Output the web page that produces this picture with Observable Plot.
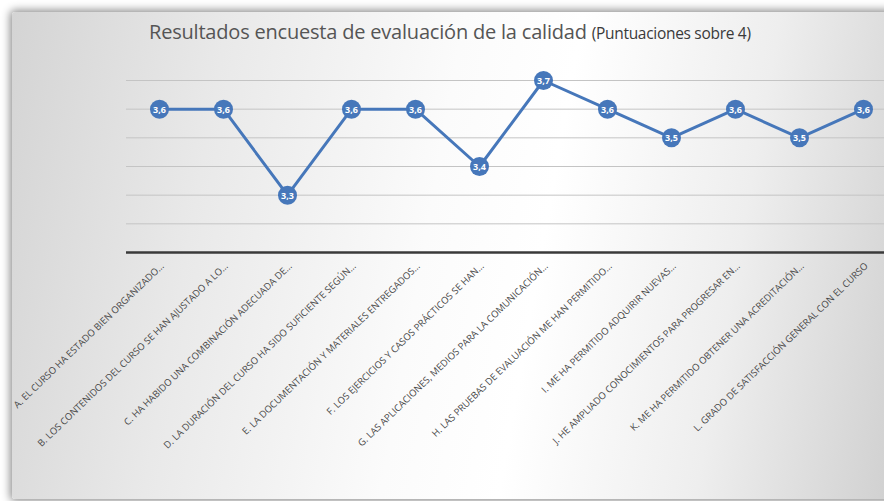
<!DOCTYPE html>
<html>
<head>
<meta charset="utf-8">
<script src="https://cdn.jsdelivr.net/npm/d3@7"></script>
<script src="https://cdn.jsdelivr.net/npm/@observablehq/plot@0.6"></script>
<style>
  html, body { margin: 0; padding: 0; width: 884px; height: 501px; overflow: hidden; background: #ffffff; }
  #card {
    position: absolute; left: 12px; top: 12px; width: 900px; height: 487px;
    border-radius: 3px;
    box-shadow: 0 0 9px 2px rgba(0,0,0,0.45);
    background:
      linear-gradient(100deg, #d4d4d4 0%, #e9e9e9 22%, #fbfbfb 46%, #ffffff 58%, #eeeeee 78%, #cdcdcd 100%);
  }
  #title {
    position: absolute; left: 149px; top: 18px; white-space: nowrap;
    font-family: "Open Sans", sans-serif; font-weight: 400; font-size: 20px; color: #555555;
    letter-spacing: -0.2px;
  }
  #title span { font-size: 15.5px; color: #3a3a3a; letter-spacing: -0.3px; }
  #chart { position: absolute; left: 0; top: 0; width: 920px; height: 501px; }
  #chart svg { max-width: none !important; width: 920px !important; height: 501px !important; }
</style>
</head>
<body>
<div id="card"></div>
<div id="title">Resultados encuesta de evaluación de la calidad <span>(Puntuaciones sobre 4)</span></div>
<div id="chart"></div>
<script>
const categories = [
  "A. EL CURSO HA ESTADO BIEN ORGANIZADO...",
  "B. LOS CONTENIDOS DEL CURSO SE HAN AJUSTADO A LO...",
  "C. HA HABIDO UNA COMBINACIÓN ADECUADA DE...",
  "D. LA DURACIÓN DEL CURSO HA SIDO SUFICIENTE SEGÚN...",
  "E. LA DOCUMENTACIÓN Y MATERIALES ENTREGADOS...",
  "F. LOS EJERCICIOS Y CASOS PRÁCTICOS SE HAN...",
  "G. LAS APLICACIONES, MEDIOS PARA LA COMUNICACIÓN...",
  "H. LAS PRUEBAS DE EVALUACIÓN ME HAN PERMITIDO...",
  "I. ME HA PERMITIDO ADQUIRIR NUEVAS...",
  "J. HE AMPLIADO CONOCIMIENTOS PARA PROGRESAR EN...",
  "K. ME HA PERMITIDO OBTENER UNA ACREDITACIÓN...",
  "L. GRADO DE SATISFACCIÓN GENERAL CON EL CURSO"
];
const values = [3.6, 3.6, 3.3, 3.6, 3.6, 3.4, 3.7, 3.6, 3.5, 3.6, 3.5, 3.6];
const gridTicks = [3.2, 3.3, 3.4, 3.5, 3.6, 3.7];
const baseValue = 3.1;

const data = categories.map((c, i) => ({cat: c, v: values[i]}));
const fmt = v => v.toFixed(1).replace(".", ",");
const blue = "#4677ba";

const chart = Plot.plot({
  width: 920,
  height: 501,
  marginLeft: 126,
  marginRight: 25,
  marginTop: 80,
  marginBottom: 249,
  style: {background: "transparent", fontFamily: "'Open Sans', sans-serif", overflow: "visible", maxWidth: "none"},
  x: {domain: categories, type: "point", padding: 0.5, axis: null},
  y: {domain: [baseValue, 3.7], axis: null},
  marks: [
    Plot.ruleY(gridTicks, {stroke: "#c4c4c4", strokeWidth: 1}),
    Plot.ruleY([baseValue], {stroke: "#3a3a3a", strokeWidth: 2.5}),
    Plot.axisX({
      tickRotate: -44, tickSize: 0, tickPadding: 12,
      fontSize: 9.5, fill: "#484848", lineWidth: Infinity,
      dx: 3, label: null
    }),
    Plot.line(data, {x: "cat", y: "v", stroke: blue, strokeWidth: 3}),
    Plot.dot(data, {x: "cat", y: "v", r: 9.5, fill: blue}),
    Plot.text(data, {x: "cat", y: "v", text: d => fmt(d.v), fill: "white", fontWeight: "bold", fontSize: 9, dy: 0.5})
  ]
});
document.getElementById("chart").appendChild(chart);
</script>
</body>
</html>
